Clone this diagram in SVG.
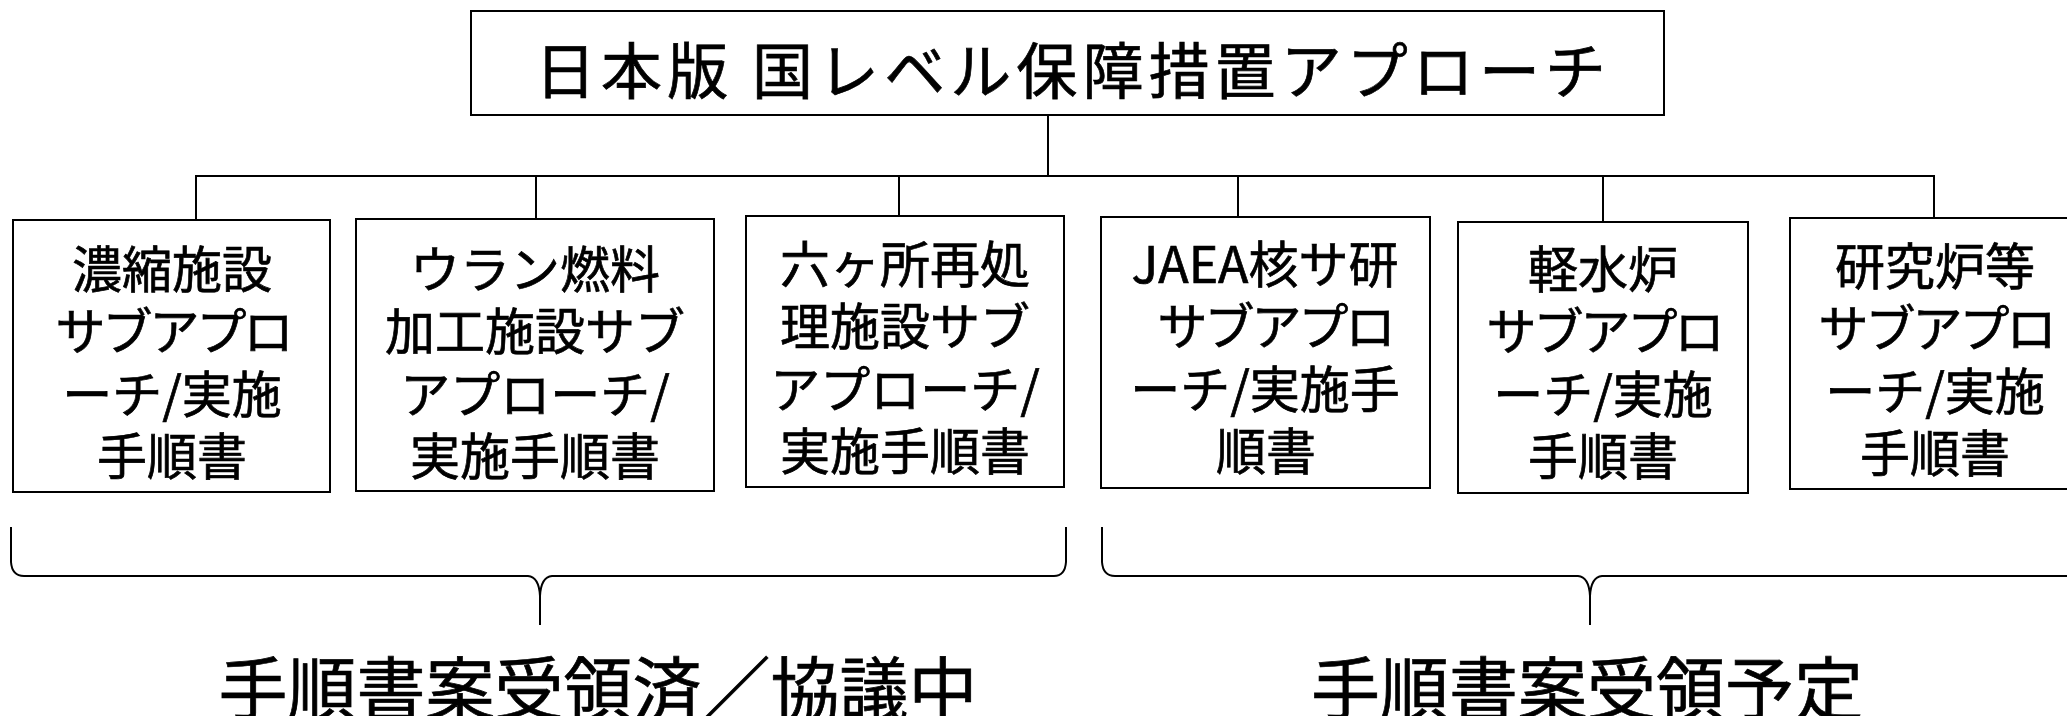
<svg xmlns="http://www.w3.org/2000/svg" width="2067" height="716" viewBox="0 0 2067 716">
<style>
.box{fill:#fff;stroke:#000;stroke-width:2}
.t{font-family:"Noto Sans CJK JP","Noto Sans",sans-serif;fill:#000;stroke:#000;stroke-width:0.7;text-anchor:middle}
.bt{font-size:50px}
.k{letter-spacing:-3px}
.ln{fill:none;stroke:#000;stroke-width:2}
</style>
<rect width="2067" height="716" fill="#fff"/>
<g id="connectors">
<line class="ln" x1="1048" y1="115" x2="1048" y2="176" stroke-width="1.5"/>
<line class="ln" x1="195" y1="176" x2="1935" y2="176" stroke-width="2.6"/>
<line class="ln" x1="196" y1="176" x2="196" y2="220"/>
<line class="ln" x1="536" y1="176" x2="536" y2="219"/>
<line class="ln" x1="899" y1="176" x2="899" y2="216"/>
<line class="ln" x1="1238" y1="176" x2="1238" y2="217"/>
<line class="ln" x1="1603" y1="176" x2="1603" y2="222"/>
<line class="ln" x1="1934" y1="176" x2="1934" y2="218"/>
</g>
<g id="title">
<rect class="box" x="471" y="11" width="1193" height="104"/>
<text class="t" x="535" y="94" font-size="61" style="text-anchor:start" textLength="1071" lengthAdjust="spacing">日本版 国レベル保障措置アプローチ</text>
</g>
<g id="node1">
<rect class="box" x="13" y="220" width="317" height="272"/>
<text class="t bt" x="172" y="288">濃縮施設</text>
<text class="t bt k" x="173" y="350">サブアプロ</text>
<text class="t bt" x="172" y="413">ーチ/実施</text>
<text class="t bt" x="172" y="475">手順書</text>
</g>
<g id="node2">
<rect class="box" x="356" y="219" width="358" height="272"/>
<text class="t bt" x="535" y="288">ウラン燃料</text>
<text class="t bt" x="535" y="350">加工施設サブ</text>
<text class="t bt" x="535" y="413">アプローチ/</text>
<text class="t bt" x="535" y="475">実施手順書</text>
</g>
<g id="node3">
<rect class="box" x="746" y="216" width="318" height="271"/>
<text class="t bt" x="905" y="283">六ヶ所再処</text>
<text class="t bt" x="905" y="345">理施設サブ</text>
<text class="t bt" x="905" y="408">アプローチ/</text>
<text class="t bt" x="905" y="470">実施手順書</text>
</g>
<g id="node4">
<rect class="box" x="1101" y="217" width="329" height="271"/>
<text class="t bt" x="1265" y="283">JAEA核サ研</text>
<text class="t bt k" x="1275" y="345">サブアプロ</text>
<text class="t bt" x="1265" y="408">ーチ/実施手</text>
<text class="t bt" x="1266" y="470">順書</text>
</g>
<g id="node5">
<rect class="box" x="1458" y="222" width="290" height="271"/>
<text class="t bt" x="1603" y="288">軽水炉</text>
<text class="t bt k" x="1604" y="350">サブアプロ</text>
<text class="t bt" x="1603" y="413">ーチ/実施</text>
<text class="t bt" x="1603" y="475">手順書</text>
</g>
<g id="node6">
<rect class="box" x="1790" y="218" width="289" height="271"/>
<text class="t bt" x="1935" y="285">研究炉等</text>
<text class="t bt k" x="1936" y="347">サブアプロ</text>
<text class="t bt" x="1935" y="410">ーチ/実施</text>
<text class="t bt" x="1935" y="472">手順書</text>
</g>
<g id="brace1">
<path class="ln" d="M11 527 L11 562 Q12 576 24 576 L528 576 Q539 577 540 596 L540 625 M540 596 Q541 577 552 576 L1054 576 Q1065 576 1066 562 L1066 527"/>
<text class="t" x="598" y="715" font-size="69">手順書案受領済／協議中</text>
</g>
<g id="brace2">
<path class="ln" d="M1102 527 L1102 562 Q1103 576 1115 576 L1578 576 Q1589 577 1590 596 L1590 625 M1590 596 Q1591 577 1602 576 L2066 576 Q2077 576 2078 562 L2078 527"/>
<text class="t" x="1587" y="715" font-size="69">手順書案受領予定</text>
</g>
</svg>
